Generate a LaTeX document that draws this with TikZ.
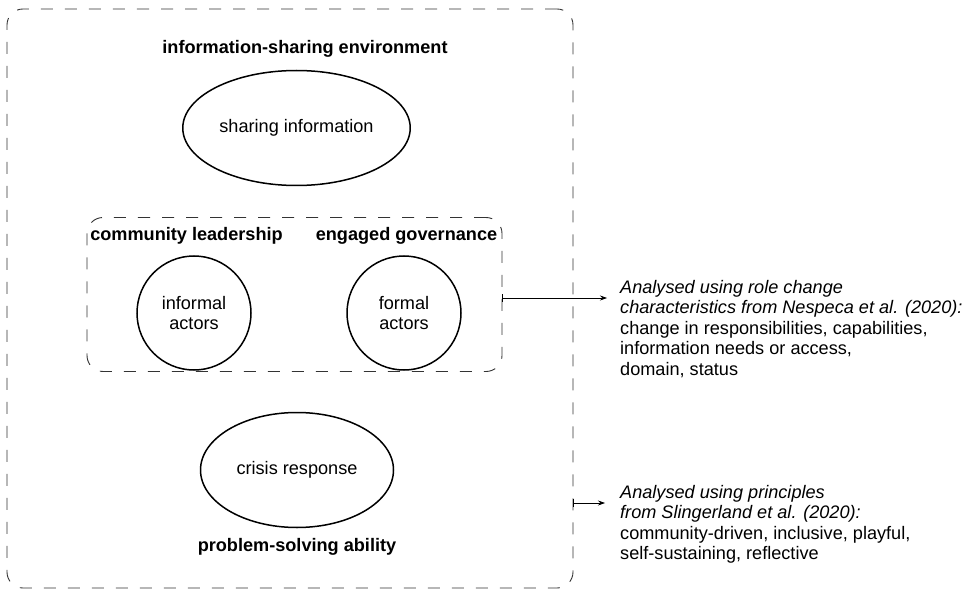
\documentclass[tikz,border=0pt]{standalone}
\usepackage{fontspec}
\setmainfont{Liberation Sans}
\usetikzlibrary{arrows.meta,shapes.geometric}
\tikzset{
  dashbox/.style={draw=black!80, dash pattern=on 12bp off 12bp, rounded corners=16bp, line width=0.9bp},
  bubble/.style={draw, ellipse, line width=1.5bp, minimum width=193bp, minimum height=115bp, font=\fontsize{18.2}{21}\selectfont},
  role/.style={draw, circle, line width=1.5bp, minimum size=114bp, align=center, font=\fontsize{18.2}{21}\selectfont},
  head/.style={anchor=base, inner sep=0pt, font=\bfseries\fontsize{18.2}{21}\selectfont},
  note/.style={anchor=north west, align=left, inner sep=0pt, font=\fontsize{18.2}{20.6}\selectfont},
  link/.style={{Bar[width=8bp]}-{Stealth[length=7bp,width=5bp]}, line width=0.7bp}
}
\begin{document}
\begin{tikzpicture}[x=1bp,y=-1bp]
    \useasboundingbox (0,0) rectangle (972,590);
    % boxes
    \node[dashbox, minimum width=566bp, minimum height=579bp] (outer) at (290,298.5) {};
    \node[dashbox, minimum width=415bp, minimum height=154bp] (inner) at (294.5,294.5) {};

    % headings
    \node[head] (env) at (305,54) {information-sharing environment};
    \node[head] (lead) at (186.5,241) {community leadership};
    \node[head] (gov) at (406.5,241) {engaged governance};
    \node[head] (prob) at (297,551) {problem-solving ability};

    % shapes
    \node[bubble] (share) at (296.5,128) {sharing information};
    \node[bubble] (crisis) at (297,470) {crisis response};
    \node[role] (informal) at (194,313) {informal\\actors};
    \node[role] (formal) at (404,313) {formal\\actors};

    % notes
    \node[note] (roles) at (620,280) {\itshape Analysed using role change\\
        \itshape characteristics from Nespeca et al. (2020):\\
        change in responsibilities, capabilities,\\
        information needs or access,\\
        domain, status};
    \node[note] (principles) at (620,485) {\itshape Analysed using principles\\
        \itshape from Slingerland et al. (2020):\\
        community-driven, inclusive, playful,\\
        self-sustaining, reflective};

    % links
    \coordinate (a1) at (inner.east |- 0,298);
    \coordinate (b1) at (607,298);
    \coordinate (a2) at (outer.east |- 0,503);
    \coordinate (b2) at (605,503);
    \draw[link] (a1) -- (b1);
    \draw[link] (a2) -- (b2);
\end{tikzpicture}
\end{document}
